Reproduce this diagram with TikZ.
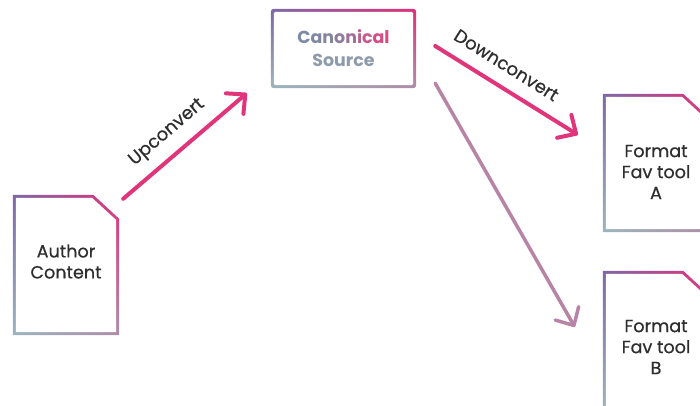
\documentclass[tikz,border=0pt]{standalone}
\usepackage{fontspec}
\setmainfont{Poppins}
\newfontfamily\medfont{Poppins}[FakeBold=0.6]
\usetikzlibrary{arrows.meta,calc,backgrounds,shadings}

\definecolor{pinkline}{HTML}{E0357B}
\definecolor{mauveline}{HTML}{B884A6}
\definecolor{txt}{HTML}{2E2E2E}
\definecolor{gUL}{HTML}{7E68A6}
\definecolor{gUR}{HTML}{E0307A}
\definecolor{gLL}{HTML}{9BB6BE}
\definecolor{gLR}{HTML}{AE8EA8}
\definecolor{srcgrey}{HTML}{8E9BAB}

\tikzset{
  docframe/.style={minimum width=106pt, minimum height=140pt, inner sep=0pt},
  boxframe/.style={minimum width=145pt, minimum height=79pt, inner sep=0pt},
  doctext/.style={inner sep=0pt, align=center, text=txt,
    font=\fontsize{17.6}{21}\medfont},
  edgeshade/.style={upper left=gUL, upper right=gUR, lower left=gLL, lower right=gLR},
  % dog-eared page outline, inset by #2 from node #1
  docpath/.style 2 args={insert path={
    ($(#1.north west)+(#2,#2)$) -- ($(#1.north east)+({-26-0.41*#2},#2)$)
    -- ($(#1.north east)+({-#2},{24+0.41*#2})$) -- ($(#1.south east)+({-#2},{-#2})$)
    -- ($(#1.south west)+(#2,{-#2})$) -- cycle}},
  flow/.style={line width=4pt, draw=pinkline, line cap=round,
    -{Straight Barb[length=14pt,width=27pt,round]}},
  sideflow/.style={flow, line width=3.5pt, draw=mauveline},
  flowlabel/.style={sloped, inner sep=0pt, text=txt, font=\fontsize{18}{20}\medfont},
}

\begin{document}
\begin{tikzpicture}[x=1pt,y=-1pt]
  \useasboundingbox (0,0) rectangle (700,406);
  \clip (0,0) rectangle (700,406);

  % frames holding the shapes
  \node[docframe] (author) at (66,265) {};
  \node[boxframe] (canon) at (343.5,48.5) {};
  \node[docframe, minimum height=138pt] (fmtA) at (656,163) {};
  \node[docframe] (fmtB) at (656,341) {};

  % texts
  \node[doctext] (authortext) at ($(author)+(0,-3.5)$) {Author\\Content};
  \node[doctext, font=\fontsize{17.4}{23}\selectfont\bfseries] (canontext) at (canon) {%
    \textcolor[HTML]{7B8BA5}{C}\textcolor[HTML]{7F88A3}{a}\textcolor[HTML]{85849F}{n}%
    \textcolor[HTML]{8E7D9C}{o}\textcolor[HTML]{A06F98}{n}\textcolor[HTML]{B86290}{i}%
    \textcolor[HTML]{C95788}{c}\textcolor[HTML]{D44E83}{a}\textcolor[HTML]{D9497F}{l}\\
    \textcolor{srcgrey}{Source}};
  \node[doctext] (fmtAtext) at ($(fmtA)+(0,9)$) {Format\\Fav tool\\A};
  \node[doctext] (fmtBtext) at ($(fmtB)+(0,6)$) {Format\\Fav tool\\B};

  % gradient outlines
  \begin{scope}[on background layer]
    \shade[edgeshade, docpath={author}{0}];
    \fill[white, docpath={author}{3}];
    \shade[edgeshade, docpath={fmtA}{0}];
    \fill[white, docpath={fmtA}{3}];
    \shade[edgeshade, docpath={fmtB}{0}];
    \fill[white, docpath={fmtB}{3}];
    \shade[edgeshade, rounded corners=3pt] (canon.north west) rectangle (canon.south east);
    \fill[white, rounded corners=1.5pt] ($(canon.north west)+(3,3)$) rectangle ($(canon.south east)+(-3,-3)$);
  \end{scope}

  % connector ends
  \coordinate (upS) at ($(author.north east)+(4,4)$);
  \coordinate (upE) at ($(canon.south west)+(-24,5)$);
  \coordinate (dnS) at ($(canon.east)+(19,-2.5)$);
  \coordinate (dnE) at ($(fmtA.north west)+(-25,41)$);
  \coordinate (sdS) at ($(canon.south east)+(19,-5)$);
  \coordinate (sdE) at ($(fmtB.west)+(-28,-14)$);

  \draw[flow] (upS) -- (upE) node[flowlabel, pos=0.47, above=11pt] {Upconvert};
  \draw[flow] (dnS) -- (dnE) node[flowlabel, pos=0.42, above=13pt] {Downconvert};
  \draw[sideflow] (sdS) -- (sdE);
\end{tikzpicture}
\end{document}
